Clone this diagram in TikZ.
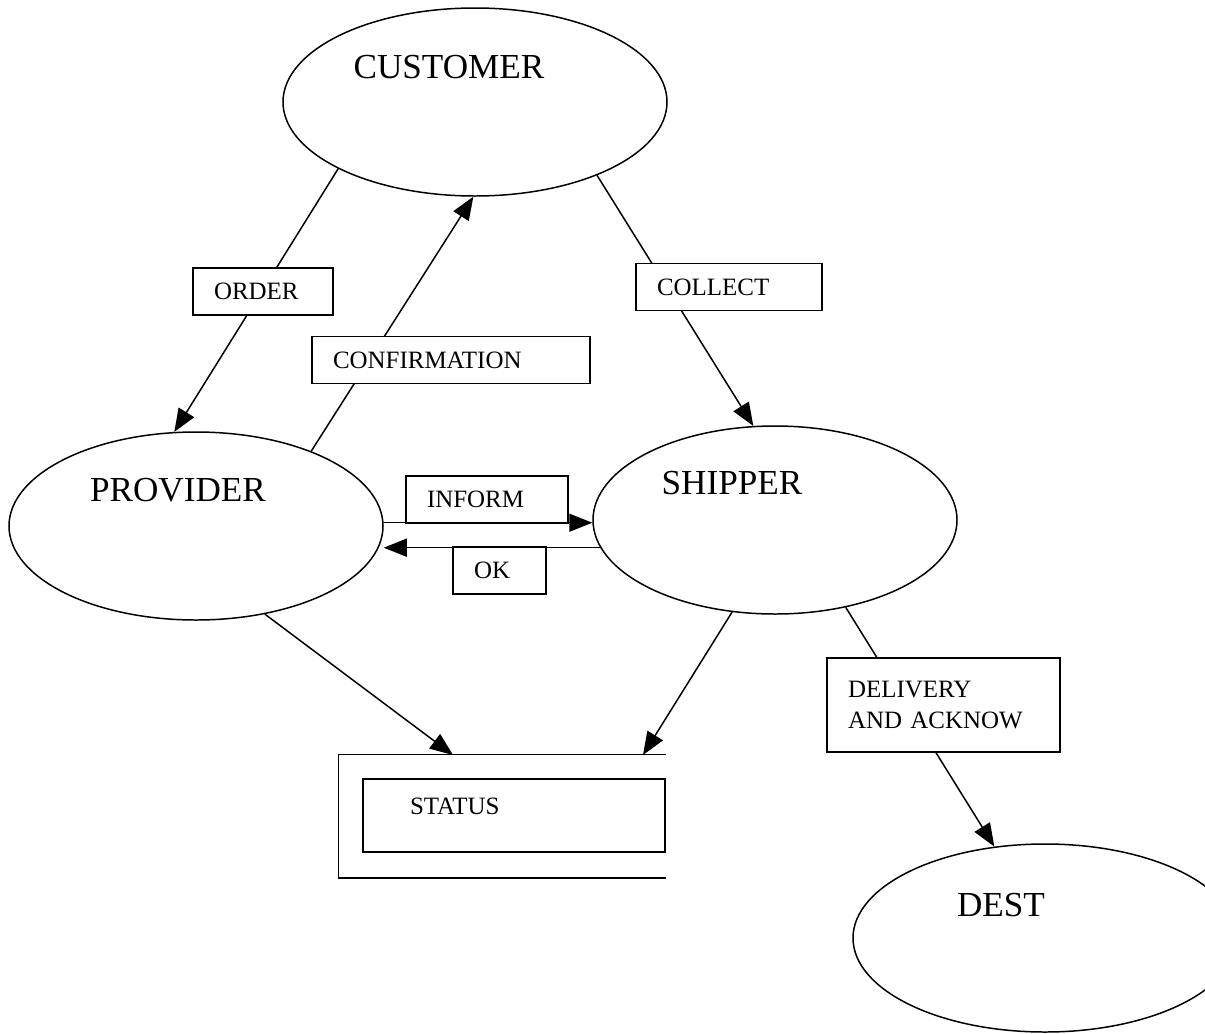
\documentclass[tikz,border=0pt]{standalone}
\usepackage{fontspec}
\setmainfont{Liberation Serif}
\usetikzlibrary{shapes.geometric,arrows.meta}

\begin{document}
\begin{tikzpicture}[x=0.2mm,y=-0.2mm,>={Triangle[length=4.6mm,width=3.6mm]},line width=0.85pt,
  party/.style={draw,ellipse,inner sep=0pt,minimum height=3.76cm},
  pname/.style={font=\fontsize{20}{24}\selectfont},
  msg/.style={draw,fill=white,rectangle,inner xsep=4.2mm,inner ysep=0pt,minimum height=0.94cm,align=left,text width=#1,font=\fontsize{14.2}{18}\selectfont}]
\useasboundingbox (0,0) rectangle (1205,1033);
\node[party,minimum width=7.68cm] (cust) at (475,102) {};
\node[party,minimum width=7.48cm] (prov) at (196,526) {};
\node[party,minimum width=7.28cm] (ship) at (775,520) {};
\node[party,minimum width=7.68cm] (dest) at (1045,938) {};
\node[pname] (cust-name) at ([shift={(-26,-35)}]cust.center) {CUSTOMER};
\node[pname] (prov-name) at ([shift={(-18,-36)}]prov.center) {PROVIDER};
\node[pname] (ship-name) at ([shift={(-43,-37)}]ship.center) {SHIPPER};
\node[pname] (dest-name) at ([shift={(-44,-33)}]dest.center) {DEST};
\node[minimum width=6.52cm,minimum height=2.44cm] (store) at (502,816) {};
\draw (store.north east) -- (store.north west) -- (store.south west) -- (store.south east);
\node[msg=4.16cm,inner xsep=9.4mm,minimum height=1.46cm,text height=0.33cm,text depth=0.36cm] (status) at (514,815.5) {STATUS};
\coordinate (store-a) at (453,755);
\coordinate (store-b) at (643,755);
\draw[->] (cust.206.7) -- (prov.103.7);
\draw[->] (prov.33) -- (cust.-91);
\draw[->] (cust.-31.9) -- (ship.103.2);
\draw[->] (prov.1) -- (prov.1 -| ship.west);
\draw[->] (ship.-171.5) -- (ship.-171.5 -| prov.east);
\draw[->] (prov.-52) -- (store-a);
\draw[->] (ship.245.1) -- (store-b);
\draw[->] (ship.-51.5) -- (dest.119.7);
\node[msg=1.96cm] (order) at (263,291.5) {ORDER};
\node[msg=4.72cm] (confirm) at (451,360) {CONFIRMATION};
\node[msg=2.88cm] (collect) at (729,287) {COLLECT};
\node[msg=2.40cm] (inform) at (487,499.5) {INFORM};
\node[msg=1.02cm] (ok) at (499.5,570.5) {OK};
\node[msg=3.82cm,minimum height=1.88cm] (deliv) at (943.5,705) {DELIVERY\\AND ACKNOW};
\end{tikzpicture}
\end{document}
